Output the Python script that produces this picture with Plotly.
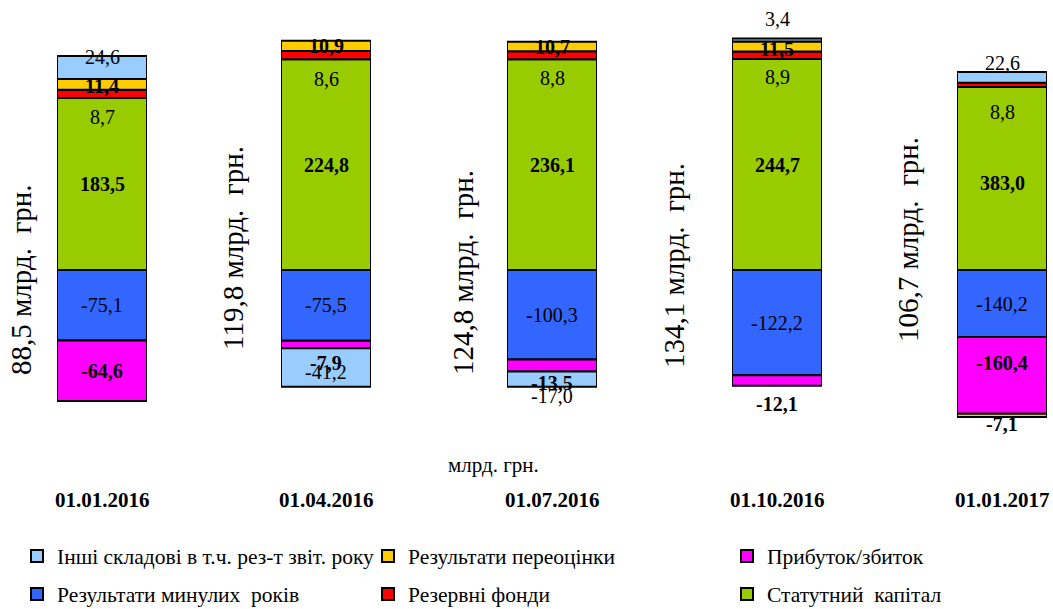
import plotly.graph_objects as go

# ---- data ----
dates = ["01.01.2016", "01.04.2016", "01.07.2016", "01.10.2016", "01.01.2017"]
totals = ["88,5", "119,8", "124,8", "134,1", "106,7"]

statutory = [183.5, 224.8, 236.1, 244.7, 383.0]   # Статутний капітал
reserve = [8.7, 8.6, 8.8, 8.9, 8.8]               # Резервні фонди
past_years = [-75.1, -75.5, -100.3, -122.2, -140.2]  # Результати минулих років
profit = [-64.6, -7.9, -13.5, -12.1, -160.4]      # Прибуток/збиток
revaluation = [11.4, 10.9, 10.7, 11.5, -7.1]      # Результати переоцінки
other = [24.6, -41.2, -17.0, 3.4, 22.6]           # Інші складові

# each small chart has its own vertical scale (pixels per unit)
px_per_unit = [0.938, 0.938, 0.893, 0.862, 0.478]

W, H = 1053, 609
PLOT_TOP, PLOT_BOT, ZERO_PX = 0, 440, 270
FONT = "Liberation Serif, Times New Roman, serif"

series = [
    dict(name="Статутний  капітал", vals=statutory, color="#99CC00", bold=True,
         legend="legend6", shifts=[0, 0, 0, 0, -5]),
    dict(name="Резервні фонди", vals=reserve, color="#FF0000", bold=False,
         legend="legend5", shifts=[-23, -24, -23, -22, -27]),
    dict(name="Результати минулих  років", vals=past_years, color="#3366FF", bold=False,
         legend="legend4", shifts=[0, 0, 0, 0, 0]),
    dict(name="Прибуток/збиток", vals=profit, color="#FF00FF", bold=True,
         legend="legend3", shifts=[0, -18, -17, -23, 12]),
    dict(name="Результати переоцінки", vals=revaluation, color="#FFCC00", bold=True,
         legend="legend2", shifts=[-2, 0, 0, -3, -9]),
    dict(name="Інші складові в т.ч. рез-т звіт. року", vals=other, color="#99CCFF", bold=False,
         legend="legend", shifts=[10, -4, -17, 21, 14]),
]

bar_left = [57, 281, 507, 732, 957]
bar_w = 90
ytitle_pos = [(21, 280), (233, 248), (463, 273), (674, 266), (908, 240)]


def fmt(v):
    return f"{v:.1f}".replace(".", ",")


def py(px):  # pixel y -> paper y
    return (PLOT_BOT - px) / (PLOT_BOT - PLOT_TOP)


fig = go.Figure()
layout = dict(
    width=W, height=H, barmode="relative",
    margin=dict(l=0, r=0, t=PLOT_TOP, b=H - PLOT_BOT, autoexpand=False),
    paper_bgcolor="white", plot_bgcolor="rgba(0,0,0,0)",
    font=dict(family=FONT, size=21, color="black"),
    annotations=[],
)

for k in range(5):
    sfx = "" if k == 0 else str(k + 1)
    s = px_per_unit[k]
    layout["xaxis" + sfx] = dict(
        domain=[bar_left[k] / W, (bar_left[k] + bar_w) / W],
        range=[-0.5, 0.5], type="category", visible=False,
        anchor="y" + sfx, fixedrange=True)
    layout["yaxis" + sfx] = dict(
        domain=[0, 1],
        range=[-(PLOT_BOT - ZERO_PX) / s, (ZERO_PX - PLOT_TOP) / s],
        visible=False, anchor="x" + sfx, fixedrange=True)

for sr in series:
    for k in range(5):
        sfx = "" if k == 0 else str(k + 1)
        fig.add_trace(go.Bar(
            x=[dates[k]], y=[sr["vals"][k]], width=1,
            xaxis="x" + sfx, yaxis="y" + sfx,
            name=sr["name"], legend=sr["legend"], showlegend=(k == 0),
            marker=dict(color=sr["color"], line=dict(color="black", width=2)),
            hoverinfo="skip"))

# value labels
for k in range(5):
    sfx = "" if k == 0 else str(k + 1)
    pos, neg = 0.0, 0.0
    for sr in series:
        v = sr["vals"][k]
        if v >= 0:
            c = pos + v / 2
            pos += v
        else:
            c = neg + v / 2
            neg += v
        txt = fmt(v)
        if sr["bold"]:
            txt = "<b>" + txt + "</b>"
        layout["annotations"].append(dict(
            x=dates[k], y=c, xref="x" + sfx, yref="y" + sfx, text=txt,
            xanchor="center", yanchor="middle",
            showarrow=False, yshift=sr["shifts"][k],
            font=dict(family=FONT, size=20, color="black")))

# rotated totals (per-chart axis titles)
for k in range(5):
    xp, ypx = ytitle_pos[k]
    layout["annotations"].append(dict(
        x=xp / W, y=py(ypx), xref="paper", yref="paper",
        xanchor="center", yanchor="middle",
        text=totals[k] + " млрд.  грн.", textangle=-90, showarrow=False,
        font=dict(family=FONT, size=29, color="black")))

# category labels
for k in range(5):
    layout["annotations"].append(dict(
        x=(bar_left[k] + bar_w / 2) / W, y=py(500), xref="paper", yref="paper",
        xanchor="center", yanchor="middle",
        text="<b>" + dates[k] + "</b>", showarrow=False,
        font=dict(family=FONT, size=21, color="black")))

layout["annotations"].append(dict(
    x=493 / W, y=py(465), xref="paper", yref="paper", text="млрд. грн.",
    xanchor="center", yanchor="middle",
    showarrow=False, font=dict(family=FONT, size=21, color="black")))

# legends: 3 columns x 2 rows
leg_pos = {
    "legend": (17, 556), "legend2": (368, 556), "legend3": (727, 556),
    "legend4": (17, 594), "legend5": (368, 594), "legend6": (727, 594),
}
for key, (xp, ypx) in leg_pos.items():
    layout[key] = dict(
        x=xp / W, y=py(ypx), xanchor="left", yanchor="middle",
        xref="paper", yref="paper",
        bgcolor="rgba(0,0,0,0)", borderwidth=0, itemwidth=30,
        font=dict(family=FONT, size=21.5, color="black"))

fig.update_layout(**layout)
fig.write_html("out.html", config={"displayModeBar": False},
               post_script="document.body.style.margin='0px';document.body.style.overflow='hidden';")
